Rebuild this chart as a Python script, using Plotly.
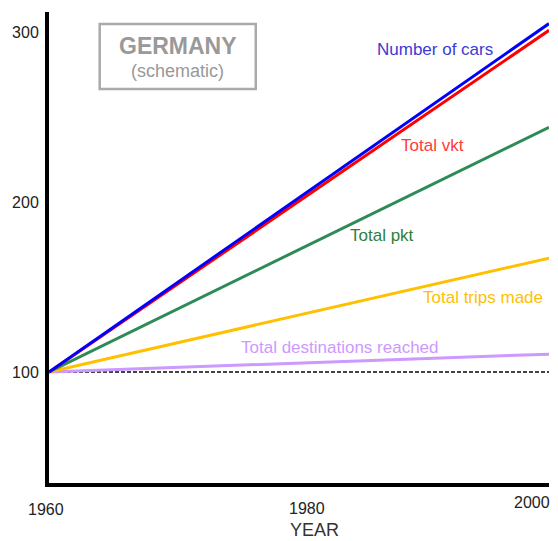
import plotly.graph_objects as go

years = [1960, 2000]
number_of_cars = [100, 305]
total_vkt = [100, 301]
total_pkt = [100, 244]
total_trips = [100, 167]
total_destinations = [100, 110.5]
baseline = [100, 100]
x_tick_labels = ["1960", "1980", "2000"]
y_tick_values = [100, 200, 300]

series = [
    ("Number of cars", number_of_cars, "#0000ff"),
    ("Total vkt", total_vkt, "#ff0000"),
    ("Total pkt", total_pkt, "#2e8b57"),
    ("Total trips made", total_trips, "#ffc000"),
    ("Total destinations reached", total_destinations, "#cc99ff"),
]

# page has an 8px body margin; figure geometry expressed in screenshot pixels
OFF = 8
W, H = 558 - OFF, 541 - OFF
L, T = 46 - OFF, 12 - OFF
R = W - (549 - OFF)
B = H - (483 - OFF)
PW, PH = W - L - R, H - T - B


def px(rx):
    return (rx - OFF - L) / PW


def py(ry):
    return 1 - (ry - OFF - T) / PH


fig = go.Figure()
fig.add_trace(go.Scatter(x=years, y=baseline, mode="lines",
                         line=dict(color="#444444", width=2, dash="4px,2px"),
                         showlegend=False, hoverinfo="skip"))
for name, vals, col in reversed(series):
    fig.add_trace(go.Scatter(x=years, y=vals, mode="lines", name=name,
                             line=dict(color=col, width=3), showlegend=False))

font_family = "Liberation Sans, Arial, sans-serif"
labels = [
    ("Number of cars", 1990.9, 290, "#3b3bd6"),
    ("Total vkt", 1990.7, 233.5, "#ff3b3b"),
    ("Total pkt", 1986.6, 180.6, "#2e8040"),
    ("Total trips made", 1994.7, 144.1, "#ffc000"),
    ("Total destinations reached", 1983.25, 114.7, "#cc99ff"),
]
annotations = []
for txt, x, y, c in labels:
    annotations.append(dict(x=x, y=y, xref="x", yref="y", text=txt, showarrow=False,
                            xanchor="center", yanchor="middle",
                            font=dict(family=font_family, size=17, color=c)))

annotations.append(dict(x=px(175.5), y=py(46), xref="paper", yref="paper",
                        text="<b>GERMANY</b>", showarrow=False,
                        xanchor="center", yanchor="middle",
                        font=dict(family=font_family, size=23, color="#999999")))
annotations.append(dict(x=px(175.5), y=py(71), xref="paper", yref="paper",
                        text="(schematic)", showarrow=False,
                        xanchor="center", yanchor="middle",
                        font=dict(family=font_family, size=18, color="#999999")))

# x tick labels
for txt, rx, ry in zip(x_tick_labels, [43, 306, 532], [509, 508, 502]):
    annotations.append(dict(x=px(rx), y=py(ry), xref="paper", yref="paper", text=txt,
                            showarrow=False, xanchor="center", yanchor="middle",
                            font=dict(family=font_family, size=16, color="#222222")))

annotations.append(dict(x=px(313), y=py(530), xref="paper", yref="paper", text="YEAR",
                        showarrow=False, xanchor="center", yanchor="middle",
                        font=dict(family=font_family, size=18, color="#333333")))

shapes = [dict(type="rect", xref="paper", yref="paper",
               x0=px(97), x1=px(254), y0=py(89), y1=py(24),
               line=dict(color="#aaaaaa", width=2.5), fillcolor="rgba(0,0,0,0)")]

fig.update_layout(
    width=W, height=H,
    margin=dict(l=L, r=R, t=T, b=B),
    paper_bgcolor="white", plot_bgcolor="white",
    showlegend=False,
    font=dict(family=font_family, size=16, color="#222222"),
    xaxis=dict(range=[1960, 2000], showline=True, linewidth=4, linecolor="black",
               showgrid=False, zeroline=False, showticklabels=False, ticks=""),
    yaxis=dict(range=[34.7, 311.8], showline=True, linewidth=4, linecolor="black",
               showgrid=False, zeroline=False, tickvals=y_tick_values,
               ticks="", ticklabelstandoff=3, tickfont=dict(size=16, color="#222222")),
    annotations=annotations,
    shapes=shapes,
)

fig.write_html("out.html")
